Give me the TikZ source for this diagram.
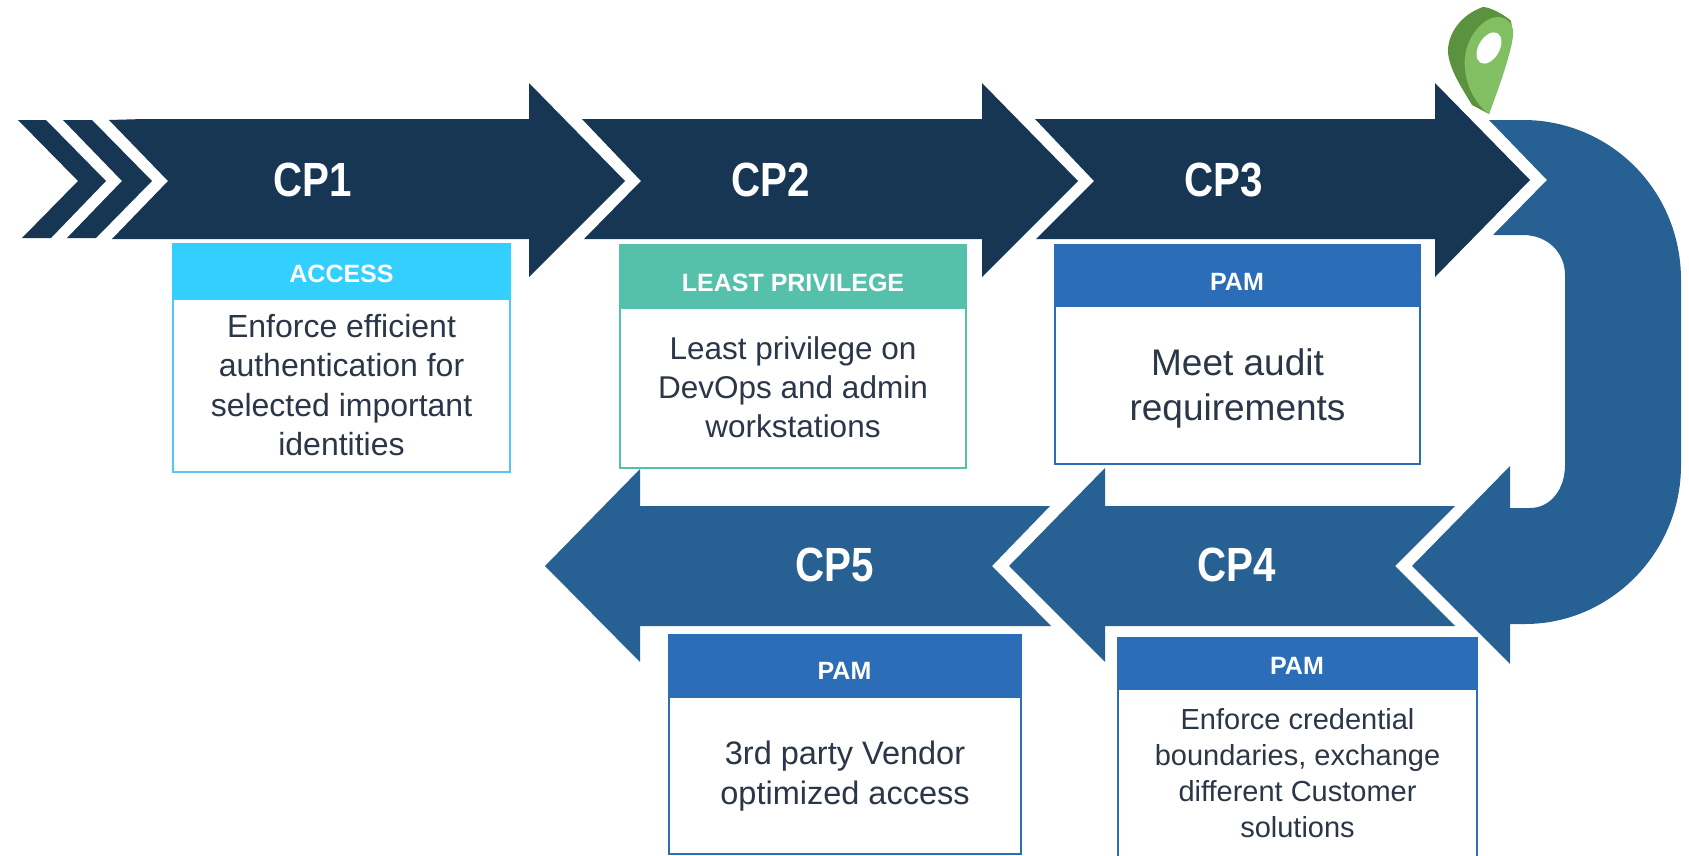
\documentclass[tikz,border=0pt]{standalone}
\usepackage{fontspec}
\setmainfont{Liberation Sans}
\newfontfamily\cpfont[FakeStretch=0.84]{Liberation Sans}
\usepackage{tikz}
\definecolor{navy}{HTML}{163654}
\definecolor{steel}{HTML}{276092}
\definecolor{pamblue}{HTML}{2B6DB6}
\definecolor{mint}{HTML}{56C1AB}
\definecolor{sky}{HTML}{33CFFF}
\definecolor{skyline}{HTML}{55C5F5}
\definecolor{ink}{HTML}{2B3648}
\definecolor{pindark}{HTML}{5B9240}
\definecolor{pinlight}{HTML}{82BF62}
\tikzset{
    cplabel/.style = {
        text=white,
        font=\cpfont\bfseries\fontsize{48}{48}\selectfont
    },
    headlabel/.style = {
        text=white,
        font=\bfseries\fontsize{25}{25}\selectfont
    },
    head/.style = {
        shape=rectangle,
        inner sep=0pt,
        minimum width=#1
    },
    card/.style = {
        draw,
        shape=rectangle,
        fill=white,
        inner sep=0pt,
        line width=2pt,
        minimum width=#1
    },
    cardtext/.style = {
        text=ink,
        align=center
    },
}

\begin{document}
\begin{tikzpicture}[x=1pt,y=-1pt]
                \useasboundingbox (0,0) rectangle (1689,855);

                % top row
                \path[fill=navy] (18,120) -- (46,120) -- (106,181) -- (51,238) -- (22,238) -- (78,181) -- cycle;
                \path[fill=navy] (63,120) -- (92,120) -- (152,181) -- (96,238) -- (67,238) -- (122,181) -- cycle;
                \path[fill=navy] (109,120) -- (144,119) -- (529,119) -- (529,83) -- (625,181) -- (529,277) -- (529,239) -- (112,239) -- (168,181) -- cycle;
                \path[fill=navy] (582,119) -- (982,119) -- (982,83) -- (1078,181) -- (982,277) -- (982,239) -- (584,239) -- (641,181) -- cycle;
                \path[fill=navy] (1035,119) -- (1435,119) -- (1435,83) -- (1530,180) -- (1435,277) -- (1435,239) -- (1036,239) -- (1094,181) -- cycle;

                % bend
                \path[fill=steel] (1489,120) -- (1523,120) .. controls (1610,120) and (1681,190) .. (1681,280) -- (1681,465)
                    .. controls (1681,553) and (1610,624) .. (1525,624) -- (1510,624) -- (1510,664) -- (1412,566) -- (1510,466) -- (1510,508) -- (1530,508)
                    .. controls (1550,508) and (1565,490) .. (1565,465) -- (1565,275) .. controls (1565,252) and (1547,235) .. (1523,235) -- (1493,235) -- (1547,180) -- cycle;

                % bottom row
                \path[fill=steel] (1455,506) -- (1105,506) -- (1105,468) -- (1009,566) -- (1105,662) -- (1105,626) -- (1455,626) -- (1395,566) -- cycle;
                \path[fill=steel] (1050,506) -- (640,506) -- (640,469) -- (545,566) -- (640,662) -- (640,626) -- (1051,626) -- (992,566) -- cycle;

                \node[cplabel] (cpa) at (312.5,180) {CP1};
                \node[cplabel] (cpb) at (771,180) {CP2};
                \node[cplabel] (cpc) at (1223.5,180) {CP3};
                \node[cplabel] (cpd) at (1236.5,565) {CP4};
                \node[cplabel] (cpe) at (835,565) {CP5};

                % cards
                \node[card=337pt, draw=skyline, minimum height=173pt] (accessb) at (341.5,385) {};
                \node[head=339pt, fill=sky, minimum height=56pt] (accessh) at (341.5,271) {};
                \node[headlabel] (accesst) at (341.5,274) {ACCESS};
                \node[cardtext, font=\fontsize{32}{39.5}\selectfont] (accessx) at (341.5,385) {Enforce efficient\\authentication for\\selected important\\identities};

                \node[card=346pt, draw=mint, minimum height=160pt] (leastb) at (793,388) {};
                \node[head=348pt, fill=mint, minimum height=64pt] (leasth) at (793,276) {};
                \node[headlabel] (leastt) at (793,283) {LEAST PRIVILEGE};
                \node[cardtext, font=\fontsize{31.5}{39}\selectfont] (leastx) at (793,387) {Least privilege on\\DevOps and admin\\workstations};

                \node[card=365pt, draw=pamblue, minimum height=158pt] (auditb) at (1237.5,385) {};
                \node[head=367pt, fill=pamblue, minimum height=62pt] (audith) at (1237.5,275) {};
                \node[headlabel] (auditt) at (1237,282) {PAM};
                \node[cardtext, font=\fontsize{37}{45}\selectfont] (auditx) at (1237.5,388) {Meet audit\\requirements};

                \node[card=352pt, draw=pamblue, minimum height=157pt] (vendorb) at (845,775) {};
                \node[head=354pt, fill=pamblue, minimum height=63pt] (vendorh) at (845,665.5) {};
                \node[headlabel] (vendort) at (844.5,671) {PAM};
                \node[cardtext, font=\fontsize{32.5}{40}\selectfont] (vendorx) at (845,776.5) {3rd party Vendor\\optimized access};

                \node[card=359pt, draw=pamblue, minimum height=172pt] (credb) at (1297.5,774) {};
                \node[head=361pt, fill=pamblue, minimum height=53pt] (credh) at (1297.5,663.5) {};
                \node[headlabel] (credt) at (1297,666) {PAM};
                \node[cardtext, font=\fontsize{29}{36}\selectfont] (credx) at (1297.5,773) {Enforce credential\\boundaries, exchange\\different Customer\\solutions};

                % pin
                \path[fill=pindark] (1489,114) -- (1472,105) .. controls (1460,85) and (1450,70) .. (1448,53)
                    .. controls (1447,35) and (1460,15) .. (1483,7) .. controls (1490,7) and (1505,15) .. (1511,21) -- (1513,35) -- cycle;
                \path[fill=pinlight] (1489,114) .. controls (1470,100) and (1463,75) .. (1465,57)
                    .. controls (1467,35) and (1485,17) .. (1497,17) .. controls (1508,17) and (1514,25) .. (1513,35)
                    .. controls (1512,50) and (1500,85) .. (1489,114) -- cycle;
                \path[fill=white] (1489,48) ellipse[x radius=10.5pt, y radius=17pt, rotate=-30];
\end{tikzpicture}
\end{document}
